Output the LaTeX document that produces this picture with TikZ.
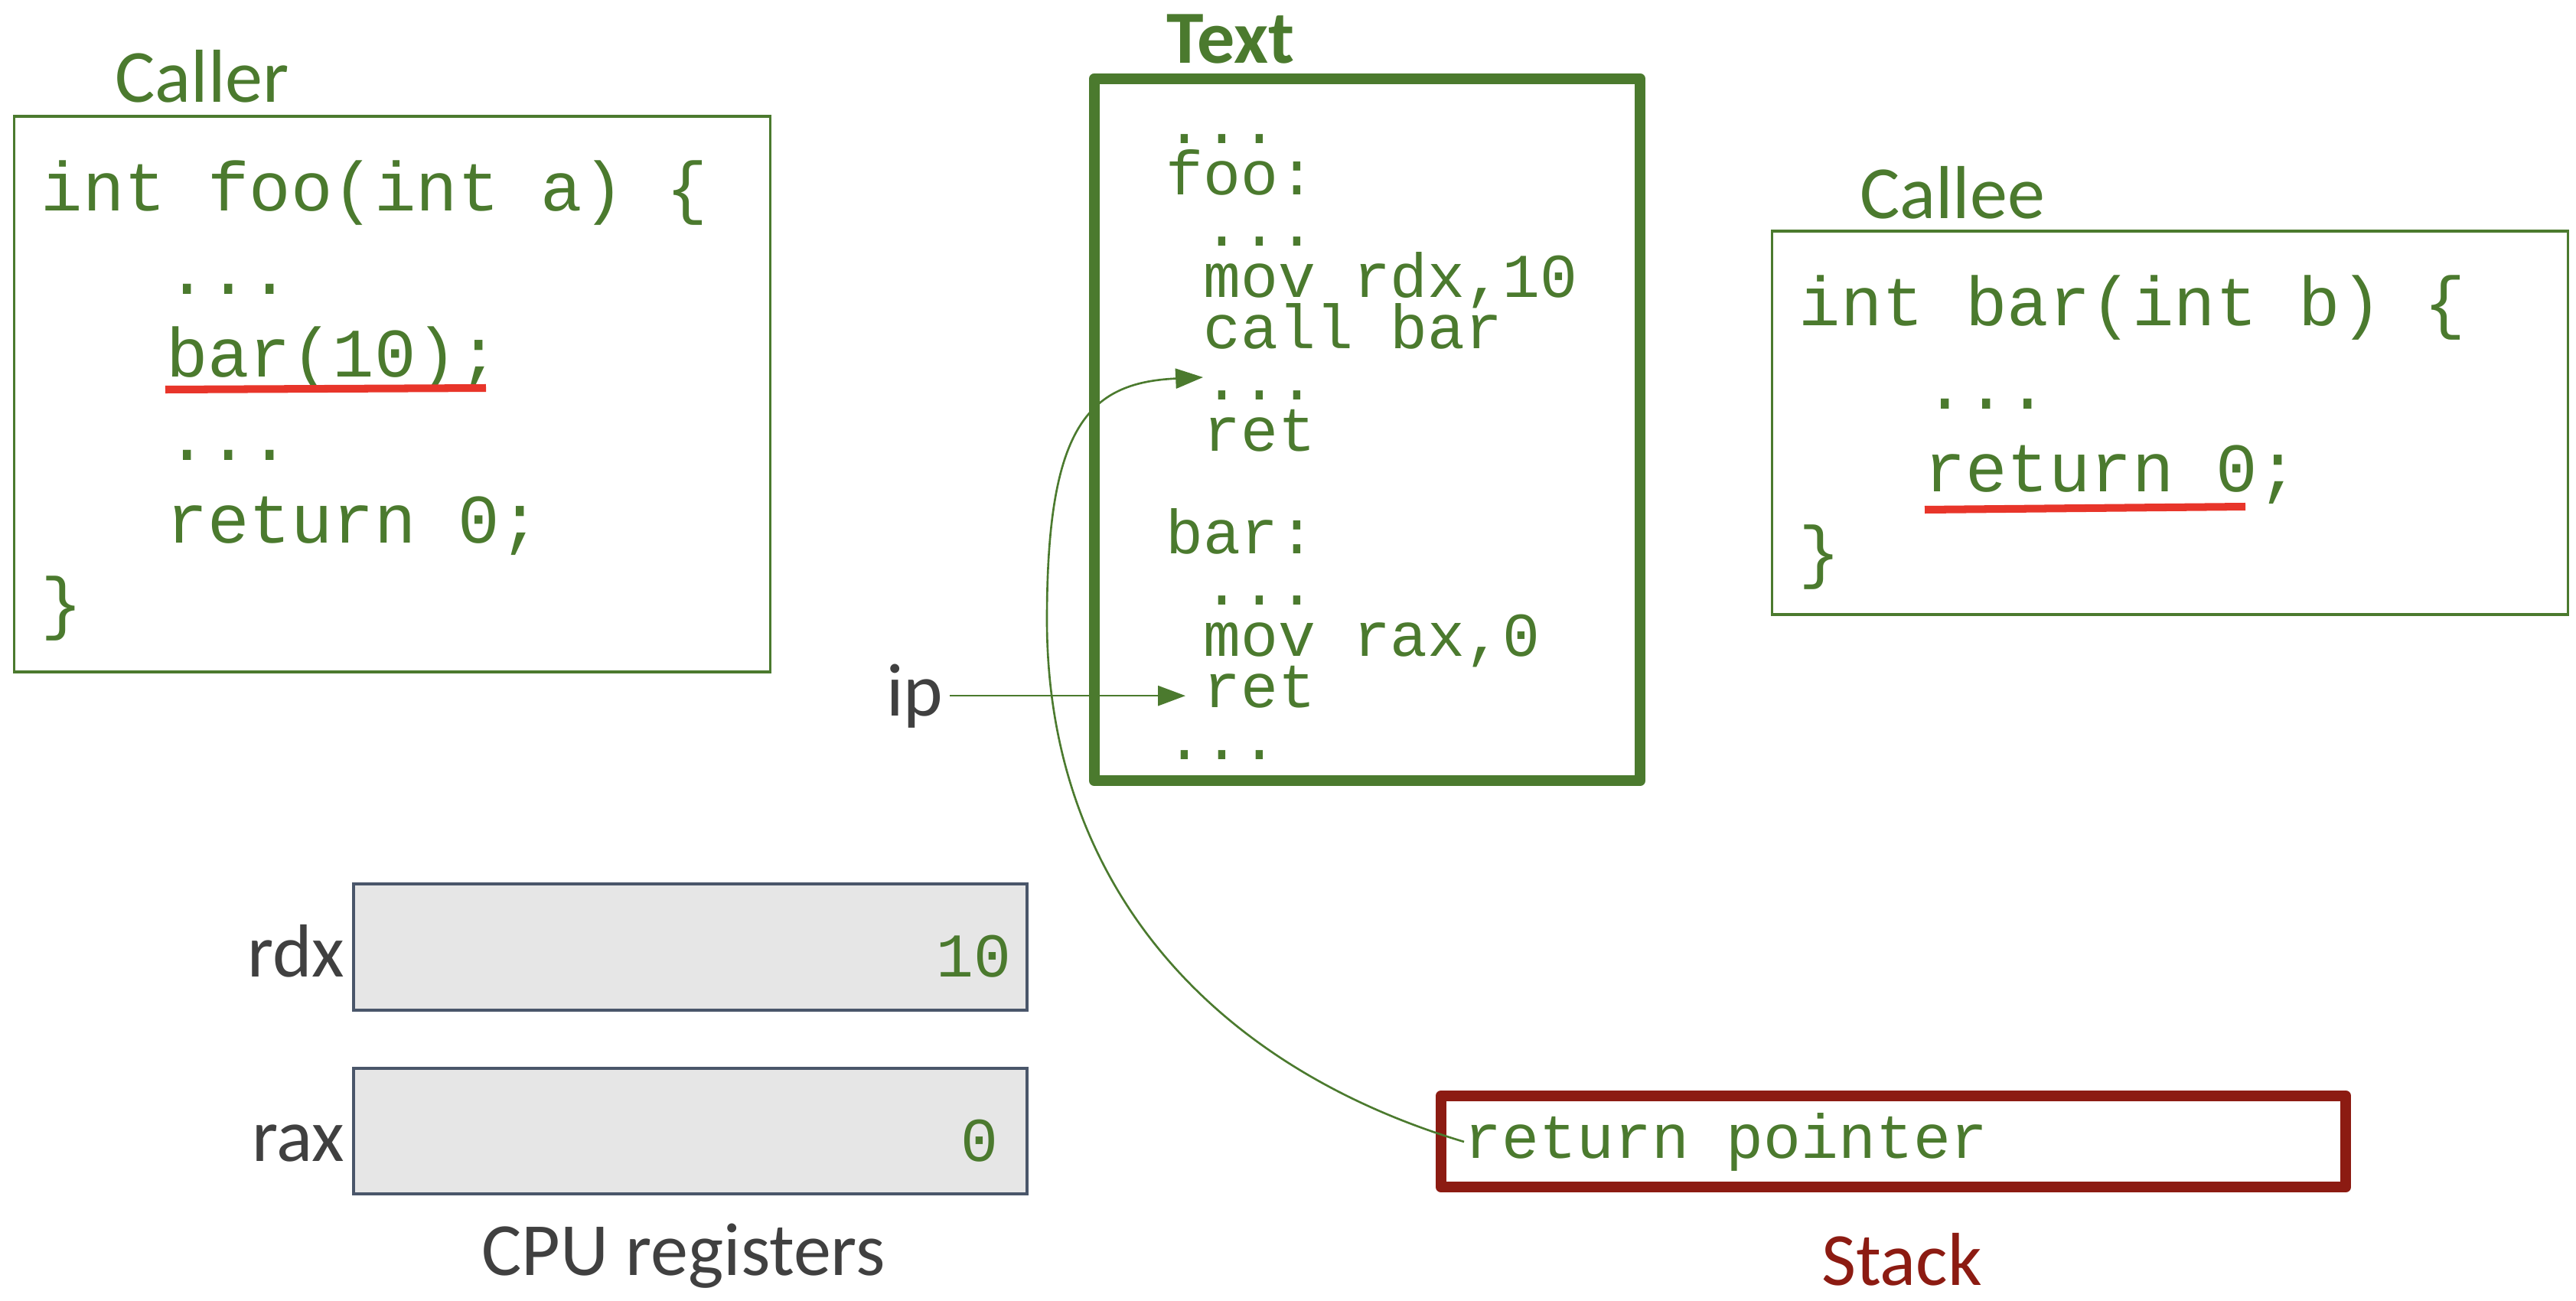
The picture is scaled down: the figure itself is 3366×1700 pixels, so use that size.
\documentclass[tikz,border=0pt]{standalone}
\usepackage{fontspec}
\setmainfont{Carlito}
\newfontfamily\codefont{Liberation Mono}
\usepackage{tikz}
\usetikzlibrary{arrows.meta}
\definecolor{codegreen}{HTML}{4B7A2E}
\definecolor{stackred}{HTML}{8C1B12}
\definecolor{markred}{HTML}{E8352A}
\definecolor{labelgray}{HTML}{404040}
\definecolor{regedge}{HTML}{4A566A}
\definecolor{regfill}{HTML}{E6E6E6}
\newcommand{\tightlines}{\lineskiplimit=-100pt\relax}
\tikzstyle{arrow} = [line width=0.75pt,codegreen,-{Triangle[length=10.2pt,width=7.4pt]}]

\begin{document}
\begin{tikzpicture}[x=0.01cm,y=-0.01cm,
    lbl/.style={font=\fontsize{27.9}{33}\selectfont, text=labelgray, inner sep=0pt, anchor=base},
    code/.style={font=\codefont\fontsize{25.8}{30.87}\selectfont\tightlines, text=codegreen, align=left, inner sep=0pt, anchor=base west},
    asm/.style={font=\codefont\fontsize{23.16}{19.06}\selectfont\tightlines, text=codegreen, align=left, inner sep=0pt, anchor=base west},
    frame/.style={draw=codegreen, line width=1pt, inner sep=0pt},
    segment/.style={draw=#1, line width=4pt, line join=round, inner sep=0pt},
    register/.style={draw=regedge, fill=regfill, line width=1.1pt, inner sep=0pt, minimum width=8.8cm}]
    \useasboundingbox (0,0) rectangle (3366,1700);

    \node[frame, minimum width=9.87cm, minimum height=7.26cm] (callerbox) at (512.5,515) {};
    \node[frame, minimum width=10.39cm, minimum height=5.01cm] (calleebox) at (2835.5,552.5) {};
    \node[segment=codegreen, minimum width=7.13cm, minimum height=9.17cm] (textbox) at (1786.5,561.5) {};
    \node[segment=stackred, minimum width=11.82cm, minimum height=1.19cm] (stackbox) at (2474,1491.5) {};
    \node[register, minimum height=1.65cm] (rdxbox) at (902,1237.5) {};
    \node[register, minimum height=1.64cm] (raxbox) at (902,1478) {};

    \node[lbl, text=codegreen] (callerlbl) at (264,134) {Caller};
    \node[lbl, text=codegreen] (calleelbl) at (2551,285) {Callee};
    \node[lbl, text=codegreen, font=\fontsize{27.9}{33}\selectfont\bfseries] (textlbl) at (1608,83) {Text};
    \node[lbl, text=stackred] (stacklbl) at (2485,1679) {Stack};
    \node[lbl] (cpulbl) at (893,1666) {CPU registers};
    \node[lbl, anchor=base east] (rdxlbl) at (451,1276) {rdx};
    \node[lbl, anchor=base east] (raxlbl) at (451,1517) {rax};
    \node[lbl, anchor=base west, outer xsep=0.09cm] (ip) at (1149,935) {ip};

    \node[code] (foo) at (53,818.5) {
    int foo(int a) \{\\
    ~~~...\\
    ~~~bar(10);\\
    ~~~...\\
    ~~~return 0;\\
    \}};
    \node[code] (bar) at (2350,751.5) {
    int bar(int b) \{\\
    ~~~...\\
    ~~~return 0;\\
    \}};
    \node[asm] (asm) at (1523,992) {
    ...\\
    foo:\\
    ~...\\
    ~mov rdx,10\\
    ~call bar\\
    ~...\\
    ~ret\\
    \mbox{}\\
    bar:\\
    ~...\\
    ~mov rax,0\\
    ~ret\\
    ...};
    \node[asm, anchor=base east] (rdxval) at (1322,1276) {10};
    \node[asm, anchor=base east] (raxval) at (1305,1517) {0};
    \node[asm] (rp) at (1913,1513) {return pointer};

    \draw[markred, line width=2.85pt] (216,509) -- (635,507);
    \draw[markred, line width=2.85pt] (2515,666) -- (2934,662);

    \coordinate (retaddr) at (1572,493);
    \coordinate (ipaddr) at (1549,915);
    \coordinate (bend) at (1368,810);
    \draw[arrow] (ip.east) -- (ip.east -| ipaddr);
    \draw[arrow] (rp.west) .. controls +(-330,-99) and +(0,345) .. (bend)
        .. controls +(0,-250) and +(-152,7) .. (retaddr);
\end{tikzpicture}
\end{document}
